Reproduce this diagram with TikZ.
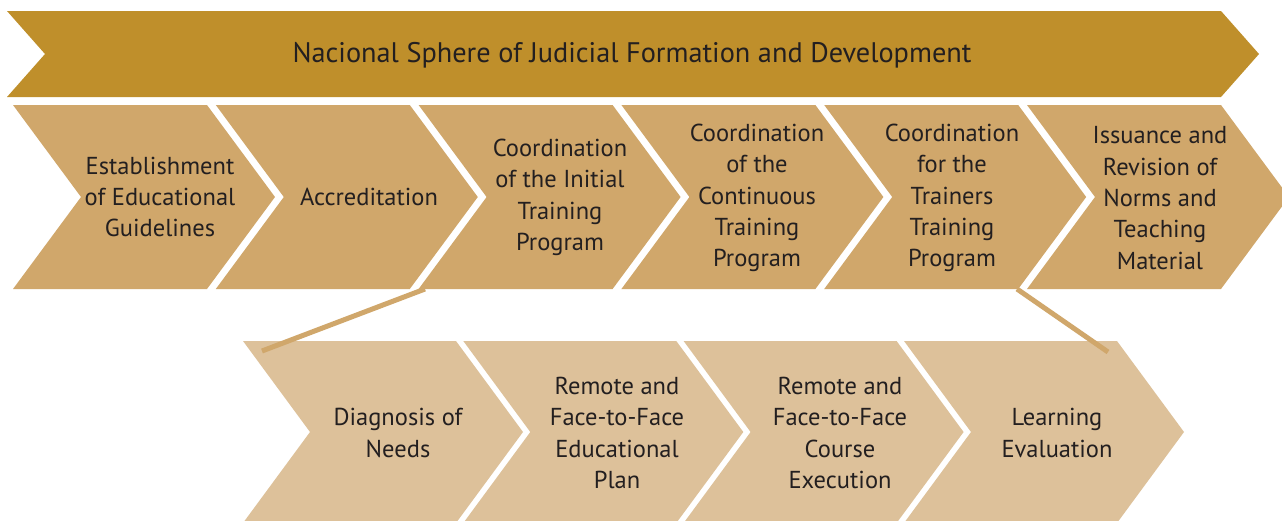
\documentclass[tikz,border=0pt]{standalone}
\usepackage{fontspec}
\setmainfont{PT Sans}
\definecolor{banner}{HTML}{BF8F2B}
\definecolor{midtan}{HTML}{D0A76B}
\definecolor{lighttan}{HTML}{DDC19A}
\definecolor{ink}{HTML}{231F20}
\newcommand\chevshape[6]{%
  \fill[#6] (#1,#2) -- ++(#3,0) -- ++(#5,#4/2) -- ++(-#5,#4/2) -- ++(-#3,0) -- ++(#5,-#4/2) -- cycle;}
\tikzset{
  txt/.style={align=center, text=ink, font=\fontsize{24.5}{31.3}\selectfont, inner sep=0pt},
  bigtxt/.style={text=ink, font=\fontsize{28.3}{34}\selectfont, inner sep=0pt, anchor=base},
  link/.style={draw=midtan, line width=5pt}
}
\begin{document}
\begin{tikzpicture}[x=1pt,y=-1pt]
\useasboundingbox (0,0) rectangle (1282,520);
% banner
\chevshape{7}{11}{1214}{86}{38}{banner}
\node[bigtxt] (top) at (632,62) {Nacional Sphere of Judicial Formation and Development};
% row 2
\chevshape{13}{105}{194}{184}{68}{midtan}
\chevshape{215.8}{105}{194}{184}{68}{midtan}
\chevshape{418.6}{105}{194}{184}{68}{midtan}
\chevshape{621.4}{105}{194}{184}{68}{midtan}
\chevshape{824.2}{105}{194}{184}{68}{midtan}
\chevshape{1027}{105}{194}{184}{68}{midtan}
\node[txt] (a1) at (160,197) {Establishment\\of Educational\\Guidelines};
\node[txt] (a2) at (369,197) {Accreditation};
\node[txt] (a3) at (560,197.5) {Coordination\\of the Initial\\Training\\Program};
\node[txt] (a4) at (757,198) {Coordination\\of the\\Continuous\\Training\\Program};
\node[txt] (a5) at (952,198) {Coordination\\for the\\Trainers\\Training\\Program};
\node[txt] (a6) at (1160,198) {Issuance and\\Revision of\\Norms and\\Teaching\\Material};
% row 3
\chevshape{243}{341}{213}{182}{67}{lighttan}
\chevshape{463.3}{341}{213}{182}{67}{lighttan}
\chevshape{683.6}{341}{213}{182}{67}{lighttan}
\chevshape{904}{341}{213}{182}{67}{lighttan}
\node[txt] (b1) at (398,433) {Diagnosis of\\Needs};
\node[txt] (b2) at (617,433) {Remote and\\Face-to-Face\\Educational\\Plan};
\node[txt] (b3) at (840,433) {Remote and\\Face-to-Face\\Course\\Execution};
\node[txt] (b4) at (1057,433) {Learning\\Evaluation};
% connectors
\coordinate (l1a) at (425,289);
\coordinate (l1b) at (262,351);
\coordinate (l2a) at (1017,289);
\coordinate (l2b) at (1108,352);
\draw[link] (l1a) -- (l1b);
\draw[link] (l2a) -- (l2b);
\end{tikzpicture}
\end{document}
